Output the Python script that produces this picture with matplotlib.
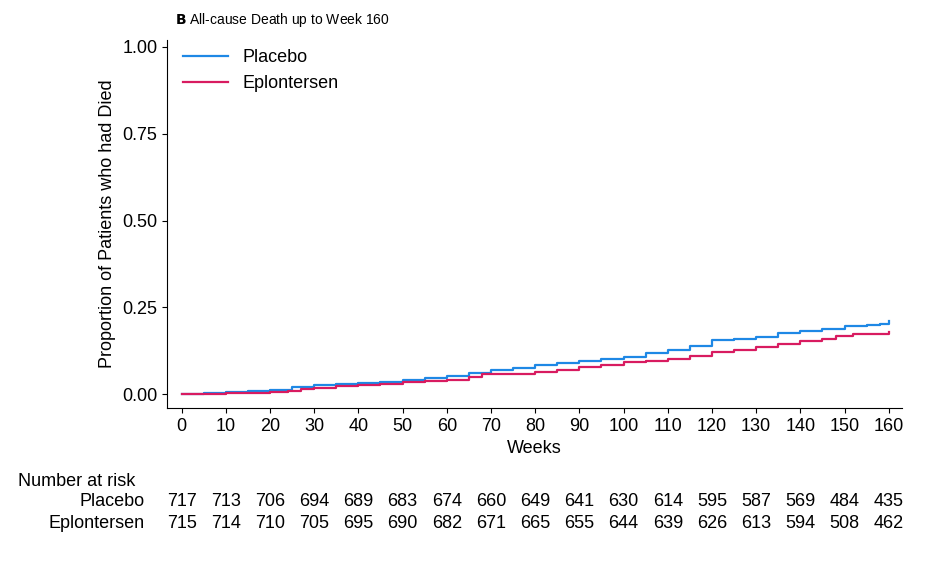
import matplotlib
matplotlib.use("Agg")
import matplotlib.pyplot as plt
from matplotlib.transforms import blended_transform_factory
plt.rcParams['font.family'] = ['Liberation Sans', 'DejaVu Sans']

weeks_p = [0,5,10,15,20,25,30,35,40,45,50,55,60,65,70,75,80,85,90,95,100,105,110,115,120,125,130,135,140,145,150,155,158,160]
placebo = [0,0.003,0.006,0.008,0.012,0.02,0.025,0.028,0.032,0.036,0.04,0.045,0.052,0.06,0.07,0.075,0.085,0.09,0.095,0.1,0.108,0.118,0.128,0.14,0.155,0.16,0.165,0.175,0.183,0.188,0.195,0.2,0.203,0.21]
weeks_e = [0,10,20,24,27,30,35,40,45,50,55,60,65,68,75,80,85,90,95,100,105,110,115,120,125,130,135,140,145,148,152,160]
eplon = [0,0.004,0.007,0.008,0.014,0.018,0.022,0.026,0.03,0.035,0.038,0.042,0.048,0.057,0.058,0.065,0.07,0.078,0.085,0.092,0.096,0.102,0.11,0.12,0.128,0.135,0.145,0.152,0.158,0.168,0.172,0.178]
risk_weeks = list(range(0,161,10))
risk_p = [717,713,706,694,689,683,674,660,649,641,630,614,595,587,569,484,435]
risk_e = [715,714,710,705,695,690,682,671,665,655,644,639,626,613,594,508,462]

fig = plt.figure(figsize=(9.36,5.8), dpi=100)
ax = fig.add_axes([167/936, 1-408/580, (902-167)/936, (408-40)/580])
ax.step(weeks_p, placebo, where='post', color='#1e88e5', lw=1.6, label='Placebo')
ax.step(weeks_e, eplon, where='post', color='#d81b60', lw=1.6, label='Eplontersen')
ax.set_xlim(-3.3,163)
ax.set_ylim(-0.04,1.02)
ax.set_xticks(risk_weeks)
ax.set_yticks([0,0.25,0.5,0.75,1.0])
ax.set_yticklabels(['0.00','0.25','0.50','0.75','1.00'])
ax.tick_params(labelsize=13)
for s in ['top','right']:
    ax.spines[s].set_visible(False)
ax.set_xlabel('Weeks', fontsize=13)
ax.set_ylabel('Proportion of Patients who had Died', fontsize=13)
ax.legend(loc='upper left', fontsize=13, frameon=False, handlelength=2.5, bbox_to_anchor=(0.0,1.02))
fig.text(175/936, 1-20/580, r'$\bf{B}$ All-cause Death up to Week 160', fontsize=10, va='center')
fig.text(18/936, 1-481/580, 'Number at risk', fontsize=13, va='center')
fig.text(145/936, 1-502/580, 'Placebo', fontsize=13, va='center', ha='right')
fig.text(145/936, 1-523/580, 'Eplontersen', fontsize=13, va='center', ha='right')
tr = blended_transform_factory(ax.transData, fig.transFigure)
for w,a,b in zip(risk_weeks, risk_p, risk_e):
    ax.text(w, 1-502/580, str(a), ha='center', va='center', fontsize=13, transform=tr)
    ax.text(w, 1-523/580, str(b), ha='center', va='center', fontsize=13, transform=tr)
fig.savefig('out.png', dpi=100)
